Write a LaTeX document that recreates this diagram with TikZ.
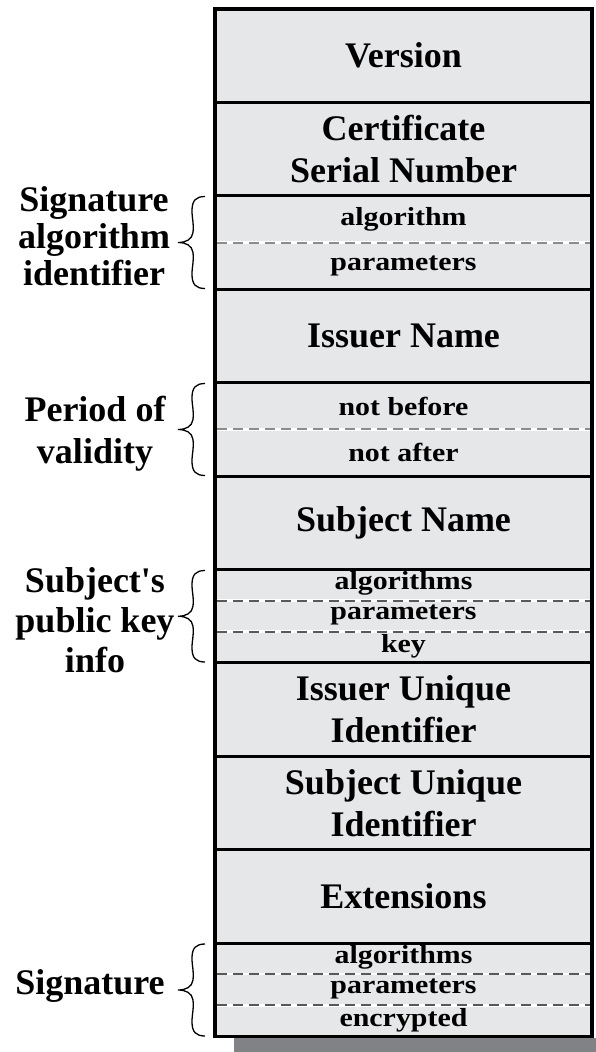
\documentclass[tikz,border=0pt]{standalone}
\usepackage{fontspec}
\setmainfont{Liberation Serif}[Ligatures=TeXOff]
\usepackage{graphicx}
\definecolor{cellfill}{RGB}{230,231,232}
\definecolor{shadowgray}{RGB}{128,130,133}
\newcommand{\cellbig}{\fontsize{36}{42}\selectfont\bfseries}
\newcommand{\cellsmall}{\fontsize{26}{28}\selectfont\bfseries}
\newcommand{\stretchtxt}[1]{\scalebox{1.15}[1]{#1}}
\begin{document}
\begin{tikzpicture}[x=1pt,y=-1pt,
  row/.style={draw=black, line width=3pt, fill=cellfill, minimum width=377pt,
    minimum height=93.4pt, inner sep=0pt, anchor=center, font=\cellbig, align=center},
  sub/.style={inner sep=0pt, anchor=center, font=\cellsmall},
  lab/.style={inner sep=0pt, anchor=center, align=center},
  sepwhite/.style={white, line width=2.6pt},
  dashlight/.style={draw=black!45, line width=2pt, dash pattern=on 10pt off 6pt},
  dashdark/.style={draw=black!65, line width=2pt, dash pattern=on 10pt off 6pt},
  bracestyle/.style={line width=1.3pt, black},
  pics/curlybrace/.style={code={
    \draw[bracestyle] (0,0) .. controls (-9,0) and (-13,4) .. (-13,14)
      .. controls (-13,{#1/4}) and (-11,{#1/2-20}) .. (-12,{#1/2-10})
      .. controls (-13,{#1/2-3}) and (-19,{#1/2}) .. (-27,{#1/2})
      .. controls (-19,{#1/2}) and (-13,{#1/2+3}) .. (-12,{#1/2+10})
      .. controls (-11,{#1/2+20}) and (-13,{#1*3/4}) .. (-13,{#1-14})
      .. controls (-13,{#1-4}) and (-9,#1) .. (0,#1);
  }}
]
\useasboundingbox (0,0) rectangle (596,1052);
% shadow (only its lower strip is visible)
\fill[shadowgray] (234,1038) rectangle (596,1052.4);
% rows
\node[row] (version) at (403.5,55.7) {Version};
\node[row] (serial) at (403.5,149.1) {Certificate\\Serial Number};
\node[row] (sigid) at (403.5,242.5) {};
\node[row] (issuer) at (403.5,335.9) {Issuer Name};
\node[row] (validity) at (403.5,429.3) {};
\node[row] (subject) at (403.5,522.7) {Subject Name};
\node[row] (pkinfo) at (403.5,616.1) {};
\node[row] (issuerid) at (403.5,709.5) {Issuer Unique\\Identifier};
\node[row] (subjectid) at (403.5,802.9) {Subject Unique\\Identifier};
\node[row] (ext) at (403.5,896.3) {Extensions};
\node[row] (sig) at (403.5,989.7) {};
% outer frame
\draw[line width=3.5pt] (215,9) rectangle (592,1036.4);
% dashed separators
\foreach \yy in {242.5,429.3} {
  \draw[sepwhite] (216.8,\yy) -- (590.2,\yy);
  \draw[dashlight] (216.8,\yy) -- (590.2,\yy);
}
\foreach \yy in {600.5,631.6,974.1,1005.3} {
  \draw[sepwhite] (216.8,\yy) -- (590.2,\yy);
  \draw[dashdark] (216.8,\yy) -- (590.2,\yy);
}
% sub-field texts
\node[sub] (sigalgA) at (403.5,219.5) {\stretchtxt{algorithm}};
\node[sub] (sigalgP) at (403.5,265.5) {\stretchtxt{parameters}};
\node[sub] (nbefore) at (403.5,406.5) {\stretchtxt{not before}};
\node[sub] (nafter) at (403.5,452.5) {\stretchtxt{not after}};
\node[sub] (pkA) at (403.5,583) {\stretchtxt{algorithms}};
\node[sub] (pkP) at (403.5,615) {\stretchtxt{parameters}};
\node[sub] (pkK) at (403.5,646) {\stretchtxt{key}};
\node[sub] (sigA) at (403.5,957) {\stretchtxt{algorithms}};
\node[sub] (sigP) at (403.5,989) {\stretchtxt{parameters}};
\node[sub] (sigE) at (403.5,1020) {\stretchtxt{encrypted}};
% braces
\pic (b1) at (205,196.5) {curlybrace=92};
\pic (b2) at (205,383.5) {curlybrace=92};
\pic (b3) at (205,570.5) {curlybrace=91.5};
\pic (b4) at (205,944) {curlybrace=92};
% labels
\node[lab, font=\fontsize{36}{37}\selectfont\bfseries] (labsig) at (94,236) {Signature\\algorithm\\identifier};
\node[lab, font=\fontsize{36}{42}\selectfont\bfseries] (labval) at (95,434) {Period of\\validity};
\node[lab, font=\fontsize{36}{40}\selectfont\bfseries] (labpk) at (95,620) {Subject's\\public key\\info};
\node[lab, font=\fontsize{36}{40}\selectfont\bfseries] (labsignature) at (90,986) {Signature};
\end{tikzpicture}
\end{document}
